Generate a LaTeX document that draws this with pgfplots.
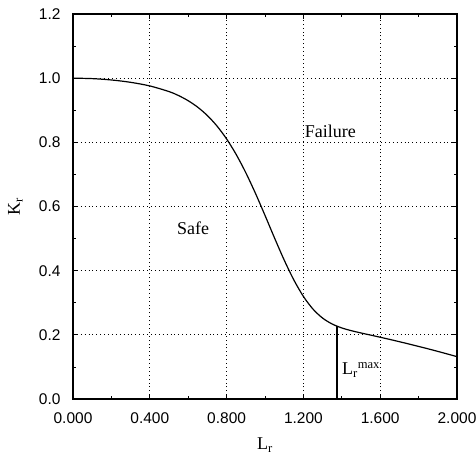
\documentclass[border=0pt]{standalone}
\usepackage{fontspec}
\setmainfont{Liberation Serif}
\newfontfamily\arialfont{Liberation Sans}
\usepackage{pgfplots}
\pgfplotsset{compat=1.18}
\begin{document}
\begin{tikzpicture}
\begin{axis}[
  at={(0,0)}, anchor=south west,
  scale only axis, width=384pt, height=385pt,
  xmin=0, xmax=2, ymin=0, ymax=1.2,
  xtick={0,0.4,0.8,1.2,1.6,2.0},
  minor xtick={0.2,0.6,1.0,1.4,1.8},
  ytick={0,0.2,0.4,0.6,0.8,1.0,1.2},
  minor ytick={0.1,0.3,0.5,0.7,0.9,1.1},
  xticklabel style={yshift=-10pt, /pgf/number format/fixed, /pgf/number format/fixed zerofill, /pgf/number format/precision=3},
  yticklabel style={xshift=-9pt, /pgf/number format/fixed, /pgf/number format/fixed zerofill, /pgf/number format/precision=1},
  /pgf/number format/assume math mode=true,
  ticklabel style={font=\arialfont\fontsize{15.5}{15.5}\selectfont},
  grid=major,
  major grid style={black, line width=0.9pt, dash pattern=on 0.9pt off 3pt},
  tick align=inside,
  major tick length=5pt, minor tick length=3pt,
  every tick/.style={black, line width=0.8pt},
  axis line style={line width=1.1pt},
  xlabel={L\textsubscript{r}}, ylabel={K\textsubscript{r}},
  xlabel style={at={(axis description cs:0.5,-0.12)}, anchor=center},
  ylabel style={at={(axis description cs:-0.15,0.5)}, anchor=center},
  label style={font=\fontsize{18}{18}\selectfont},
  clip=false,
]
\addplot[black, line width=1.2pt, smooth] coordinates {
(0.00,1.0000) (0.10,0.9986) (0.20,0.9944) (0.30,0.9871) (0.40,0.9758)
(0.50,0.9582) (0.55,0.9457) (0.60,0.9297) (0.65,0.9093) (0.70,0.8834)
(0.75,0.8508) (0.80,0.8106) (0.85,0.7621) (0.90,0.7053) (0.95,0.6414)
(1.00,0.5723) (1.05,0.5014) (1.10,0.4330) (1.15,0.3713) (1.20,0.3197)
(1.25,0.2802) (1.30,0.2522) (1.35,0.2337) (1.40,0.2215) (1.45,0.2129)
(1.50,0.2058) (1.55,0.1992) (1.60,0.1925) (1.65,0.1857) (1.70,0.1786)
(1.75,0.1714) (1.80,0.1639) (1.85,0.1563) (1.90,0.1484) (1.95,0.1403)
(2.00,0.1320)
};
\addplot[black, line width=1.5pt] coordinates {(1.375,0) (1.375,0.2273)};
\node[font=\fontsize{18}{18}\selectfont] at (axis cs:0.625,0.533) {Safe};
\node[font=\fontsize{18}{18}\selectfont] at (axis cs:1.34,0.833) {Failure};
\node[font=\fontsize{18}{18}\selectfont] at (axis cs:1.50,0.09) {L\textsubscript{r}\textsuperscript{max}};
\end{axis}
\pgfresetboundingbox
\path (-73pt,-60pt) rectangle (403pt,399pt);
\end{tikzpicture}
\end{document}
